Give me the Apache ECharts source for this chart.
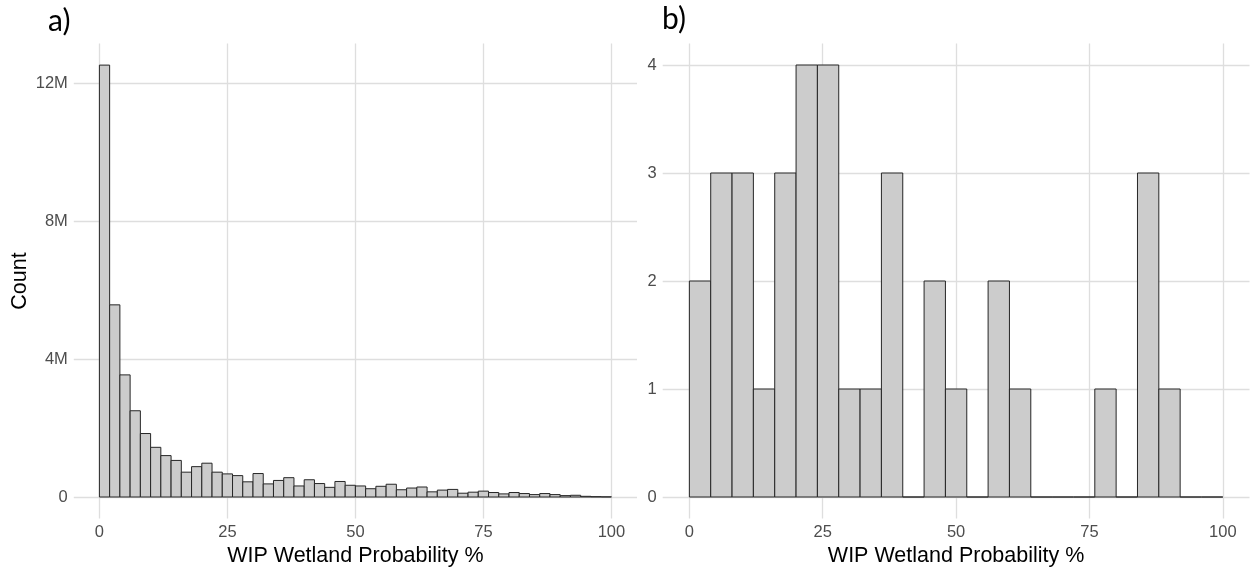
<!DOCTYPE html>
<html>
<head>
<meta charset="utf-8">
<script src="https://cdn.jsdelivr.net/npm/echarts@6/dist/echarts.min.js"></script>
<style>
  html, body { margin: 0; padding: 0; background: #ffffff; }
  #chart { width: 1250px; height: 567px; }
</style>
</head>
<body>
<div id="chart"></div>
<script>
// Panel a): pixel counts per 2 % bin of WIP wetland probability (0-100 %)
const leftBinWidth = 2;
const leftCounts = [
  12520000, 5570000, 3540000, 2500000, 1840000, 1440000, 1200000, 1060000, 720000, 880000,
  980000, 720000, 670000, 620000, 440000, 680000, 380000, 480000, 560000, 320000,
  500000, 390000, 280000, 450000, 340000, 320000, 240000, 310000, 370000, 210000,
  260000, 290000, 150000, 200000, 220000, 110000, 140000, 170000, 130000, 90000,
  130000, 100000, 70000, 100000, 70000, 40000, 50000, 20000, 10000, 5000
];
const leftYTicks = [0, 4000000, 8000000, 12000000];

// Panel b): site counts per 4 % bin
const rightBinWidth = 4;
const rightCounts = [
  2, 3, 3, 1, 3, 4, 4, 1, 1, 3,
  0, 2, 1, 0, 2, 1, 0, 0, 0, 1,
  0, 3, 1, 0, 0
];
const rightYTicks = [0, 1, 2, 3, 4];

const xTicks = [0, 25, 50, 75, 100];
const xTitle = 'WIP Wetland Probability %';
const yTitle = 'Count';
const panelLabels = ['a)', 'b)'];

// histogram rows: [binStart, binEnd, count]
function toBins(counts, width) {
  return counts.map((c, i) => [i * width, (i + 1) * width, c]);
}

// ggplot-style 5 % padding around the data range
function padded(lo, hi) {
  const d = (hi - lo) * 0.05;
  return [lo - d, hi + d];
}

const FONT = '"Liberation Sans", Arial, sans-serif';
const GRID_COLOR = '#dedede';

function renderBin(params, api) {
  const p0 = api.coord([api.value(0), 0]);
  const p1 = api.coord([api.value(1), api.value(2)]);
  return {
    type: 'rect',
    shape: { x: p0[0], y: p1[1], width: p1[0] - p0[0], height: p0[1] - p1[1] },
    style: { fill: '#cccccc', stroke: '#262626', lineWidth: 1 }
  };
}

function xAxisFor(gridIndex) {
  const r = padded(0, 100);
  return {
    type: 'value', gridIndex: gridIndex, min: r[0], max: r[1],
    axisLine: { show: false },
    axisTick: { show: false, customValues: xTicks },
    axisLabel: {
      customValues: xTicks, color: '#4d4d4d', fontFamily: FONT, fontSize: 16.5, margin: 5
    },
    splitLine: { show: true, lineStyle: { color: GRID_COLOR, width: 1.3 } },
    name: xTitle, nameLocation: 'middle', nameGap: 24,
    nameTextStyle: { color: '#000000', fontFamily: FONT, fontSize: 21.5, verticalAlign: 'top' }
  };
}

function yAxisFor(gridIndex, maxCount, ticks, fmt, title) {
  const r = padded(0, maxCount);
  const ax = {
    type: 'value', gridIndex: gridIndex, min: r[0], max: r[1],
    axisLine: { show: false },
    axisTick: { show: false, customValues: ticks },
    axisLabel: {
      customValues: ticks, color: '#4d4d4d', fontFamily: FONT, fontSize: 16.5, margin: 6,
      formatter: fmt
    },
    splitLine: { show: true, lineStyle: { color: GRID_COLOR, width: 1.3 } }
  };
  if (title) {
    ax.name = title;
    ax.nameLocation = 'middle';
    ax.nameGap = 43;
    ax.nameTextStyle = { color: '#000000', fontFamily: FONT, fontSize: 21.5 };
  }
  return ax;
}

const leftMax = Math.max.apply(null, leftCounts);
const rightMax = Math.max.apply(null, rightCounts);

const chart = echarts.init(document.getElementById('chart'), null, { renderer: 'canvas' });
chart.setOption({
  backgroundColor: '#ffffff',
  animation: false,
  graphic: [
    { type: 'text', left: 48, top: 6, style: { text: panelLabels[0], fontFamily: 'Lato, "Open Sans", sans-serif', fontSize: 30, fill: '#000000' } },
    { type: 'text', left: 662, top: 4, style: { text: panelLabels[1], fontFamily: 'Lato, "Open Sans", sans-serif', fontSize: 30, fill: '#000000' } }
  ],
  grid: [
    { left: 73.8, top: 43.5, width: 563.2, height: 475.1, outerBoundsMode: 'none', containLabel: false },
    { left: 662.7, top: 43.4, width: 586.8, height: 475.2, outerBoundsMode: 'none', containLabel: false }
  ],
  xAxis: [xAxisFor(0), xAxisFor(1)],
  yAxis: [
    yAxisFor(0, leftMax, leftYTicks, v => (v === 0 ? '0' : (v / 1000000) + 'M'), yTitle),
    yAxisFor(1, rightMax, rightYTicks, v => String(v), null)
  ],
  series: [
    {
      type: 'custom', xAxisIndex: 0, yAxisIndex: 0,
      encode: { x: [0, 1], y: 2 },
      renderItem: renderBin, data: toBins(leftCounts, leftBinWidth)
    },
    {
      type: 'custom', xAxisIndex: 1, yAxisIndex: 1,
      encode: { x: [0, 1], y: 2 },
      renderItem: renderBin, data: toBins(rightCounts, rightBinWidth)
    }
  ]
});
</script>
</body>
</html>
